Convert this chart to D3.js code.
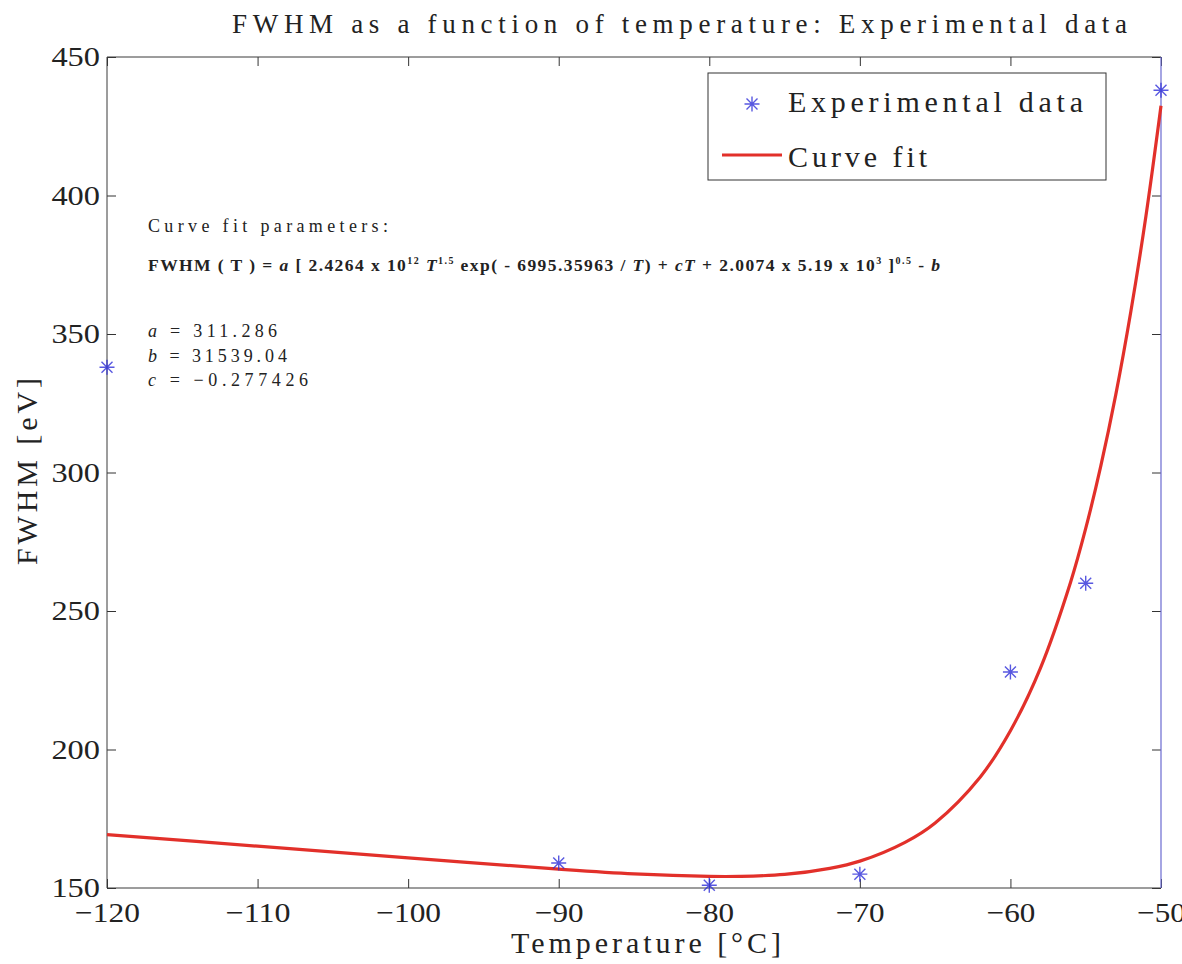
<!DOCTYPE html>
<html>
<head>
<meta charset="utf-8">
<script src="https://cdn.jsdelivr.net/npm/d3@7/dist/d3.min.js"></script>
<style>
  html, body { margin: 0; padding: 0; background: #fff; }
  svg { display: block; }
  svg text { font-family: "Liberation Serif", "DejaVu Serif", "Noto Serif", "Times New Roman", Times, serif !important; }
</style>
</head>
<body>
<svg id="chart" width="1182" height="964"></svg>
<script>
// Measured FWHM values (eV) at each temperature (°C)
const expTemps = [-120, -90, -80, -70, -60, -55, -50];
const expFwhm  = [338, 159, 151, 155, 228, 260, 438];

// Fitted curve, sampled along the temperature range
const fitTemps = [-120, -110, -100, -90, -85, -80, -78, -75, -72, -70, -67, -65,
                  -62, -60, -58, -56, -55, -54, -53, -52, -51, -50];
const fitFwhm  = [169.3, 165.1, 160.9, 156.8, 155.1, 154.2, 154.2, 154.9, 157.1, 159.7, 166.5, 173.5,
                  190.1, 206.8, 229.5, 260.5, 279.8, 302.3, 328.2, 358.2, 392.6, 432.4];

// Axis ticks
const xTicks = [-120, -110, -100, -90, -80, -70, -60, -50];
const yTicks = [150, 200, 250, 300, 350, 400, 450];

// Fit parameters shown on the chart
const paramNames  = ["a", "b", "c"];
const paramValues = ["311.286", "31539.04", "\u22120.277426"];

const svg = d3.select("#chart");
const plot = { left: 107, right: 1161, top: 57, bottom: 888 };

const x = d3.scaleLinear().domain([-120, -50]).range([plot.left, plot.right]);
const y = d3.scaleLinear().domain([150, 450]).range([plot.bottom, plot.top]);

const txt = (sel) => sel.append("text").attr("fill", "#222");

// Title
txt(svg)
  .attr("x", 232).attr("y", 33)
  .attr("font-size", 27)
  .attr("textLength", 895).attr("lengthAdjust", "spacing")
  .text("FWHM as a function of temperature: Experimental data");

// Axes with inward ticks
const tickLen = 9;
const axisStyle = g => {
  g.attr("font-family", null);
  g.select(".domain").remove();
  g.selectAll(".tick line").attr("stroke", "#333").attr("stroke-width", 1);
  g.selectAll(".tick text")
    .attr("fill", "#222")
    .attr("textLength", function () { return this.textContent.length * 16.2; })
    .attr("lengthAdjust", "spacingAndGlyphs");
};

svg.append("g")
  .attr("transform", `translate(0,${plot.bottom})`)
  .call(d3.axisBottom(x).tickValues(xTicks).tickSize(-tickLen).tickPadding(14).tickFormat(d3.format("d")))
  .attr("font-size", 28)
  .call(axisStyle);

svg.append("g")
  .attr("transform", `translate(0,${plot.top})`)
  .call(d3.axisTop(x).tickValues(xTicks).tickSize(-tickLen).tickFormat(""))
  .call(axisStyle);

svg.append("g")
  .attr("transform", `translate(${plot.left},0)`)
  .call(d3.axisLeft(y).tickValues(yTicks).tickSize(-tickLen).tickPadding(7).tickFormat(d3.format("d")))
  .attr("font-size", 28)
  .call(axisStyle);

svg.append("g")
  .attr("transform", `translate(${plot.right},0)`)
  .call(d3.axisRight(y).tickValues(yTicks).tickSize(-tickLen).tickFormat(""))
  .call(axisStyle);

// Plot frame
svg.append("path")
  .attr("d", `M${plot.right},${plot.top}H${plot.left}V${plot.bottom}H${plot.right}`)
  .attr("fill", "none").attr("stroke", "#3a3a3a").attr("stroke-width", 1);
svg.append("line")
  .attr("x1", plot.right).attr("x2", plot.right)
  .attr("y1", plot.top).attr("y2", plot.bottom)
  .attr("stroke", "#6a6ad0").attr("stroke-width", 1.2);

// Axis labels
txt(svg)
  .attr("x", 511).attr("y", 953)
  .attr("font-size", 30)
  .attr("textLength", 270).attr("lengthAdjust", "spacing")
  .text("Temperature [\u00B0C]");

txt(svg)
  .attr("transform", "translate(37,565) rotate(-90)")
  .attr("font-size", 30)
  .attr("textLength", 187).attr("lengthAdjust", "spacing")
  .text("FWHM [eV]");

// Fitted curve
const line = d3.line()
  .x((d, i) => x(fitTemps[i]))
  .y(d => y(d))
  .curve(d3.curveCatmullRom.alpha(0.5));

svg.append("path")
  .datum(fitFwhm)
  .attr("d", line)
  .attr("fill", "none")
  .attr("stroke", "#e2302a")
  .attr("stroke-width", 3.2)
  .attr("stroke-linejoin", "round");

// Asterisk marker
const starPath = "M-7.5,0H7.5M0,-7.5V7.5M-5.5,-5.5L5.5,5.5M-5.5,5.5L5.5,-5.5";
const drawStar = (g, cx, cy) => g.append("path")
  .attr("d", starPath)
  .attr("transform", `translate(${cx},${cy})`)
  .attr("fill", "none")
  .attr("stroke", "#2e2ed8")
  .attr("stroke-opacity", 0.8)
  .attr("stroke-width", 1.4);

const pts = svg.append("g");
expTemps.forEach((t, i) => drawStar(pts, x(t), y(expFwhm[i])));

// Legend
const lg = svg.append("g");
lg.append("rect")
  .attr("x", 708).attr("y", 73).attr("width", 398).attr("height", 107)
  .attr("fill", "#fff").attr("stroke", "#333").attr("stroke-width", 1);
drawStar(lg, 752, 104);
lg.append("line")
  .attr("x1", 722).attr("x2", 782).attr("y1", 155).attr("y2", 155)
  .attr("stroke", "#e2302a").attr("stroke-width", 3.2);
txt(lg)
  .attr("x", 788).attr("y", 112).attr("font-size", 30)
  .attr("textLength", 295).attr("lengthAdjust", "spacing")
  .text("Experimental data");
txt(lg)
  .attr("x", 788).attr("y", 167).attr("font-size", 30)
  .attr("textLength", 139).attr("lengthAdjust", "spacing")
  .text("Curve fit");

// Fit annotation
const ann = svg.append("g");
txt(ann)
  .attr("x", 148).attr("y", 232).attr("font-size", 18)
  .attr("textLength", 240).attr("lengthAdjust", "spacing")
  .text("Curve fit parameters:");

const eq = txt(ann)
  .attr("x", 148).attr("y", 271)
  .attr("font-size", 17.5).attr("font-weight", "bold")
  .attr("textLength", 792).attr("lengthAdjust", "spacing");
const parts = [
  ["FWHM ( T ) = ", "n"], ["a", "i"], [" [ 2.4264 x 10", "n"], ["12", "s"],
  [" ", "n"], ["T", "i"], ["1.5", "s"], [" exp( - 6995.35963 / ", "n"], ["T", "i"],
  [") + ", "n"], ["cT", "i"], [" + 2.0074 x 5.19 x 10", "n"], ["3", "s"],
  [" ]", "n"], ["0.5", "s"], [" - ", "n"], ["b", "i"]
];
let raised = false;
parts.forEach(([s, k]) => {
  const ts = eq.append("tspan").text(s);
  if (k === "s") {
    ts.attr("font-size", 10).attr("dy", raised ? 0 : -7);
    raised = true;
  } else {
    if (raised) { ts.attr("dy", 7); raised = false; }
    if (k === "i") ts.attr("font-style", "italic");
  }
});

const paramWidths = [129, 139, 160];
paramNames.forEach((n, i) => {
  const t = txt(ann)
    .attr("x", 148).attr("y", 337 + i * 24.5)
    .attr("font-size", 18)
    .attr("textLength", paramWidths[i]).attr("lengthAdjust", "spacing");
  t.append("tspan").attr("font-style", "italic").text(n);
  t.append("tspan").text(" = " + paramValues[i]);
});
</script>
</body>
</html>
